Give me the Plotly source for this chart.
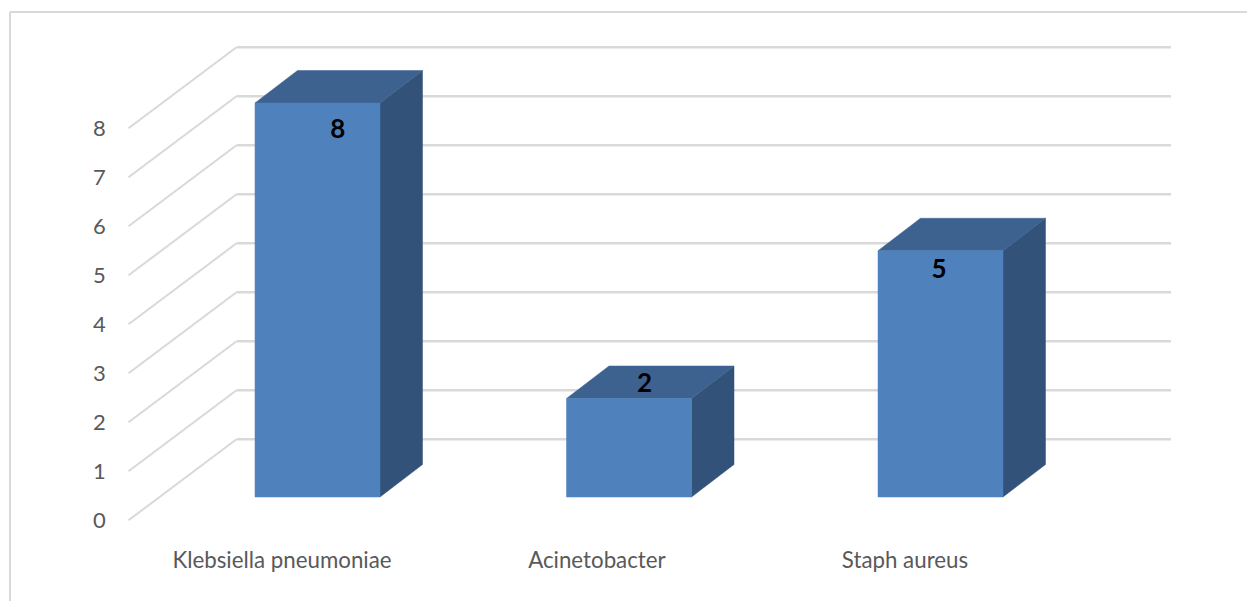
import plotly.graph_objects as go

# Chart data
categories = ["Klebsiella pneumoniae", "Acinetobacter", "Staph aureus"]
counts = [8, 2, 5]
value_ticks = [0, 1, 2, 3, 4, 5, 6, 7, 8]

# Figure size and the scale of the data axes
WIDTH, HEIGHT = 1247, 601
CAT_STEP = 311.5      # pixels per category
CAT_ORIGIN = 317.5    # pixel x of the first bar's centre
VAL_STEP = 49.25      # pixels per unit of value
VAL_ORIGIN = 497.0    # pixel y of value 0 on the front plane

# Oblique projection, all in data units
BAR_HALF = 62.5 / CAT_STEP
BAR_DX, BAR_DY = 42.5 / CAT_STEP, 32.5 / VAL_STEP
WALL_UNIT = 49.0 / VAL_STEP
WALL_Y0 = (VAL_ORIGIN - 439.3) / VAL_STEP
WALL_X0 = (236.5 - CAT_ORIGIN) / CAT_STEP
WALL_X1 = (1171 - CAT_ORIGIN) / CAT_STEP
FLOOR_DX, FLOOR_DY = 108 / CAT_STEP, 81 / VAL_STEP

FRONT, TOP, SIDE = "#4f81bd", "#3d6290", "#325279"
GRID = "#d9d9d9"
TEXT = "#595959"
FONT = "Lato"

# Nudges of the value labels relative to each bar top, in data units
label_nudge = [-0.57, 0.27, -0.43]
label_shift = [0.065, 0.05, -0.005]
# Horizontal offsets of the category labels from the bar centres, in data units
category_shift = [-0.114, -0.103, -0.114]

fig = go.Figure()


def polygon(xs, ys, color):
    fig.add_trace(go.Scatter(
        x=xs + xs[:1], y=ys + ys[:1], mode="lines", fill="toself",
        fillcolor=color, line=dict(color=color, width=0.5),
        hoverinfo="skip", showlegend=False,
    ))


# Left wall slants and back wall gridlines
slant_x, slant_y, back_x, back_y = [], [], [], []
for v in value_ticks:
    back = WALL_Y0 + v * WALL_UNIT
    slant_x += [WALL_X0 - FLOOR_DX, WALL_X0, None]
    slant_y += [back - FLOOR_DY, back, None]
    back_x += [WALL_X0, WALL_X1, None]
    back_y += [back, back, None]
fig.add_trace(go.Scatter(
    x=slant_x, y=slant_y, mode="lines", line=dict(color=GRID, width=2),
    hoverinfo="skip", showlegend=False,
))
fig.add_trace(go.Scatter(
    x=back_x, y=back_y, mode="lines", line=dict(color=GRID, width=2.6),
    hoverinfo="skip", showlegend=False,
))

# Bars: side face, top face, then the front face
for i, value in enumerate(counts):
    left, right = i - BAR_HALF, i + BAR_HALF
    polygon([right, right + BAR_DX, right + BAR_DX, right],
            [0, BAR_DY, value + BAR_DY, value], SIDE)
    polygon([left, left + BAR_DX, right + BAR_DX, right],
            [value, value + BAR_DY, value + BAR_DY, value], TOP)
    polygon([left, right, right, left], [0, 0, value, value], FRONT)

# Value axis labels, at the front end of the left wall
fig.add_trace(go.Scatter(
    x=[WALL_X0 - FLOOR_DX - 29 / CAT_STEP] * len(value_ticks),
    y=[WALL_Y0 + v * WALL_UNIT - FLOOR_DY - 2 / VAL_STEP for v in value_ticks],
    mode="text", text=[str(v) for v in value_ticks],
    textfont=dict(family=FONT, size=22, color=TEXT),
    hoverinfo="skip", showlegend=False,
))

# Category labels under the floor
fig.add_trace(go.Scatter(
    x=[i + category_shift[i] for i in range(len(categories))],
    y=[-65 / VAL_STEP] * len(categories),
    mode="text", text=categories,
    textfont=dict(family=FONT, size=22.3, color=TEXT),
    hoverinfo="skip", showlegend=False,
))

# Value labels on the bars
fig.add_trace(go.Scatter(
    x=[i + label_shift[i] for i in range(len(counts))],
    y=[v + n for v, n in zip(counts, label_nudge)],
    mode="text", text=[str(v) for v in counts],
    textfont=dict(family=FONT, size=26, color="#000000", weight="bold"),
    hoverinfo="skip", showlegend=False,
))

# Chart frame
frame = dict(type="line", xref="paper", yref="paper", layer="below",
             line=dict(color=GRID, width=2))
fig.add_shape(x0=10 / WIDTH, x1=10 / WIDTH, y0=0, y1=1 - 12 / HEIGHT, **frame)
fig.add_shape(x0=10 / WIDTH, x1=1, y0=1 - 12 / HEIGHT, y1=1 - 12 / HEIGHT, **frame)

fig.update_layout(
    width=WIDTH, height=HEIGHT,
    margin=dict(l=0, r=0, t=0, b=0),
    paper_bgcolor="#ffffff", plot_bgcolor="#ffffff",
    showlegend=False,
    xaxis=dict(visible=False, fixedrange=True,
               range=[-CAT_ORIGIN / CAT_STEP, (WIDTH - CAT_ORIGIN) / CAT_STEP]),
    yaxis=dict(visible=False, fixedrange=True,
               range=[(VAL_ORIGIN - HEIGHT) / VAL_STEP, VAL_ORIGIN / VAL_STEP]),
)

fig.write_html("out.html", config=dict(displayModeBar=False))
